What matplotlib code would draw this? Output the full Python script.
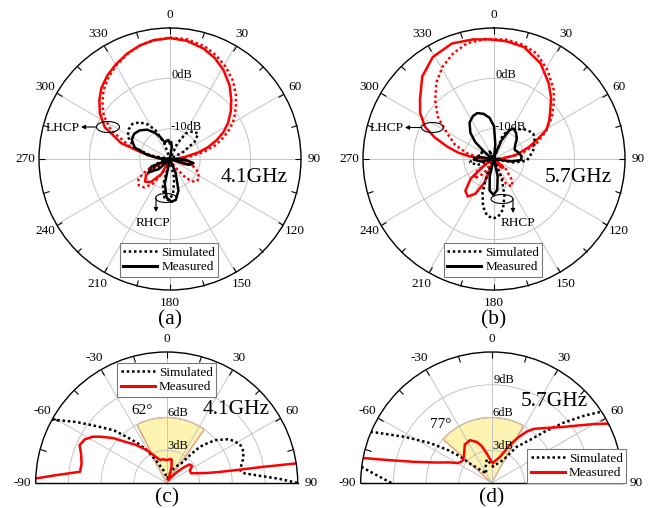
import numpy as np
import matplotlib
matplotlib.use("Agg")
import matplotlib.pyplot as plt
from matplotlib.lines import Line2D
from matplotlib.patches import Ellipse, FancyArrowPatch

plt.rcParams["font.family"] = ["Liberation Serif", "DejaVu Serif"]

# ---- (a) 4.1 GHz radiation pattern, angle (deg) / gain (dB) ----
a_lhcp_meas_ang = [-95, -85, -78, -72, -64, -57, -50, -44, -37, -30, -22, -15, -8, 0, 8, 17, 24, 31, 39, 46,
                   52, 58, 63, 68, 73, 77, 82, 88, 95, 100, 105, 110, 116, 130, 200, 210, 220, 228, 236, 244, 252, 265]
a_lhcp_meas_db = [-16, -13.5, -10.6, -5.8, -1.6, 0.6, 2.3, 3.6, 4.7, 5.6, 6.6, 7.3, 7.8, 8.0, 7.7, 6.9, 5.9, 4.6, 2.8, 0.9,
                  -0.7, -2.4, -4.0, -6.0, -8.2, -10.2, -13, -15, -13, -11.3, -11.5, -13, -16, -16, -16, -12.5, -10, -9.3, -10.3, -13, -16, -16]
a_lhcp_sim_ang = [-95, -85, -78, -72, -64, -57, -50, -44, -37, -30, -22, -15, -8, 0, 8, 17, 24, 31, 39, 46,
                  52, 58, 63, 68, 73, 78, 83, 88, 95, 105, 115, 125, 133, 140, 148, 155, 200, 208, 215, 222,
                  230, 238, 245, 252, 265]
a_lhcp_sim_db = [-16, -14, -11.5, -7.5, -3, -0.3, 1.5, 3, 4.3, 5.4, 6.5, 7.3, 7.8, 8.1, 8.0, 7.4, 6.5, 5.4, 3.9, 2.2,
                 0.6, -1.0, -2.6, -4.5, -6.6, -9.0, -12.0, -14.5, -14, -11.5, -9.8, -9.0, -9.3, -11, -14, -16, -16, -13, -10, -8.4,
                 -7.9, -8.6, -11, -14, -16]
a_rhcp_meas_ang = [-100, -88, -80, -72, -63, -55, -47, -38, -30, -24, -17, -10, -5, 0, 4, 8, 14, 85, 92, 100,
                   107, 115, 150, 158, 165, 172, 178, 185, 192, 198, 215, 228, 238, 248, 256, 260]
a_rhcp_meas_db = [-16, -14, -11.5, -8.6, -7.5, -7.3, -7.7, -8.6, -10, -11.2, -12.6, -12.3, -12.2, -13, -12.6, -13.5, -16, -16, -13, -11.3,
                  -12.2, -16, -16, -13, -9.5, -7.8, -7.5, -8.3, -11, -16, -16, -13, -11, -12, -16, -16]
a_rhcp_sim_ang = [-90, -80, -72, -62, -54, -47, -40, -33, -27, -20, -12, 18, 25, 32, 40, 48, 55, 62, 70, 90,
                  97, 104, 112, 160, 168, 175, 182, 188, 195, 202, 225, 235, 245, 255, 270]
a_rhcp_sim_db = [-16, -12, -8.5, -6.5, -5.9, -5.8, -6.5, -7.8, -9.5, -12.5, -16, -16, -12.5, -10, -8.8, -8.5, -10, -13, -16, -16,
                 -13.5, -14, -16, -16, -12, -9, -7.8, -8.2, -10.5, -16, -16, -12.5, -12, -14, -16]

# ---- (b) 5.7 GHz radiation pattern ----
b_lhcp_meas_ang = [-95, -88, -84, -80, -75, -70, -65, -58, -51, -41, -31, -20, -10, -2, 6, 15, 26, 36, 43, 49,
                   55, 61, 66, 71, 75, 80, 87, 95, 125, 132, 140, 148, 195, 202, 208, 215, 222, 230, 238, 245, 265]
b_lhcp_meas_db = [-16, -13.5, -11.2, -8.8, -6.3, -3.5, -0.9, 1.3, 2.9, 5.7, 7.6, 8.4, 8.1, 7.75, 7.5, 7.0, 5.1, 2.5, 0.6, -1.2,
                  -2.6, -4.1, -6.7, -8.6, -10.3, -11.6, -14.5, -16, -16, -13.5, -13.8, -16, -16, -11, -8.2, -6.9, -7.5, -10, -14, -16, -16]
b_lhcp_sim_ang = [-95, -85, -78, -70, -61, -53, -45, -37, -29, -21, -13, -4, 6, 14, 22, 31, 41, 47, 54, 62,
                  70, 77, 84, 90, 120, 130, 140, 147, 154, 162, 170, 205, 215, 225, 235, 245, 265]
b_lhcp_sim_db = [-16, -13.5, -10.5, -7.8, -5.3, -2.0, 0.5, 3.0, 5.0, 6.5, 7.6, 7.9, 7.8, 7.4, 6.6, 4.6, 2.1, 0.2, -1.8, -4.4,
                 -7.0, -10, -13.5, -15.5, -16, -13, -10.3, -9.5, -10.5, -13.5, -16, -16, -12.5, -10.5, -12, -16, -16]
b_rhcp_meas_ang = [-72, -60, -55, -48, -42, -34, -26, -20, -13, -6, 0, 5, 10, 15, 22, 28, 33, 40, 48, 57,
                   66, 75, 84, 92, 98, 105, 160, 168, 174, 181, 188, 194, 200, 245, 258, 268, 278, 288]
b_rhcp_meas_db = [-16, -15, -14, -11, -9, -7.3, -6.5, -6.3, -6.8, -7.8, -9.5, -13, -16, -15, -12, -9.5, -8.8, -9.2, -9.9, -11.0,
                  -11.5, -11, -10.5, -10.6, -12.5, -16, -16, -12.5, -9.8, -8.9, -9.7, -12.5, -16, -16, -13.5, -12, -13, -16]
b_rhcp_sim_ang = [-42, -30, -20, 15, 20, 28, 38, 48, 57, 67, 77, 86, 93, 100, 108, 150, 158, 164, 170, 176,
                  181, 187, 193, 199, 205, 212, 235, 250, 262, 275, 290, 305, 318]
b_rhcp_sim_db = [-16, -14, -16, -16, -11, -9.5, -8.5, -7.3, -6.7, -7.2, -8, -8.9, -9.5, -12, -16, -16, -12, -8.5, -5.8, -4.5,
                 -4.2, -4.7, -6.3, -9, -13, -16, -16, -12.5, -11.2, -12, -13.5, -12.8, -16]

# ---- (c) 4.1 GHz gain, upper half space ----
c_sim_ang = [-61, -56, -50, -45, -41, -36, -31, -26, -20, -12, -4, 5, 15, 25, 32, 37, 40, 42.5, 46, 49,
             55, 62, 68, 73, 77, 80, 83, 85, 86.5, 88, 90]
c_sim_db = [12.0, 10.0, 8.0, 6.8, 5.6, 4.5, 3.5, 2.4, 1.6, 1.1, 0.6, 0.4, 0.8, 1.4, 1.9, 2.3, 3.4, 4.5, 5.3, 6.0,
            7.0, 7.6, 7.6, 7.3, 7.0, 6.8, 7.2, 8.2, 9.2, 10.4, 12.0]
c_meas_ang = [-88, -86, -82.6, -77, -71, -66.5, -62, -58, -55, -50, -46, -39, -31, -24, -16, -8, 0, 8, 12, 17,
              22, 30, 38, 44, 48, 51, 56, 62, 68, 72, 76, 78, 79.5, 80.5, 81.4]
c_meas_db = [12.0, 10.2, 8.0, 8.0, 8.3, 8.7, 8.5, 8.0, 7.4, 6.4, 5.5, 4.5, 3.5, 2.7, 2.2, 2.2, 2.1, 2.2, 2.2, 1.5,
             0.6, 0.3, 0.7, 1.5, 2.2, 2.7, 2.8, 2.4, 2.4, 2.9, 3.8, 4.8, 6.5, 9.0, 12.0]

# ---- (d) 5.7 GHz gain, upper half space ----
d_sim_ang = [-90, -86, -83, -80, -70, -67, -62, -57, -53, -50, -48, -40, -30, -20, -12, -4, 5, 15, 27, 34.5,
             41.7, 46, 50, 54, 57, 59]
d_sim_db = [9.2, 10.6, 12.0, 13.5, 13.5, 12.0, 9.0, 6.7, 5.0, 3.8, 2.6, 1.5, 1.0, 1.6, 2.2, 1.8, 1.5, 1.8, 2.4, 4.0,
            5.3, 6.8, 8.6, 10.5, 12.0, 13.0]
d_meas_ang = [-79, -77.5, -74.8, -69.7, -64, -59.5, -55, -51, -43, -35, -27, -20, -15, -10, -4, 3, 10, 17.5, 25.7, 30,
              34.3, 38, 43.3, 48, 51.8, 56, 60, 62.8, 63.5]
d_meas_db = [12.0, 9.7, 7.4, 5.4, 4.3, 3.6, 3.4, 3.35, 3.7, 4.3, 4.4, 4.0, 3.5, 2.8, 2.2, 1.8, 2.1, 2.5, 3.9, 4.8,
             5.7, 6.3, 6.9, 7.6, 8.3, 9.4, 10.8, 11.9, 12.0]

# 3 dB beamwidth sectors: (start, end) in degrees
c_beam = (-27, 35)
d_beam = (-48, 29)

W, H = 654, 508
R = 131
RED = "#ff0000"
GRID = "#c4c4c4"
DOT = (0, (1, 1.1))


def fxy(x, y):
    return x / W, 1 - y / H


def full_rect(cx, cy):
    return [(cx - R) / W, (H - cy - R) / H, 2 * R / W, 2 * R / H]


def half_rect(cx, cy):
    # half disc sits in the lower middle of a square polar box
    return [(cx - R) / W, (H - cy - R / 2) / H, 2 * R / W, 2 * R / H]


def style(ax, rlim, rings, major, minor, labels):
    ax.set_theta_zero_location("N")
    ax.set_theta_direction(-1)
    ax.set_thetagrids(major, labels)
    ax.set_xticks(np.deg2rad(minor), minor=True)
    ax.set_ylim(*rlim)
    ax.set_yticks(rings)
    ax.set_yticklabels([])
    ax.tick_params(axis="y", length=0)
    # short ticks on the outer rim, pointing towards the centre
    ax.xaxis.set_tick_params(which="both", tick1On=False, tick2On=True, direction="in",
                             length=4.5, width=0.8, pad=2.5, labelsize=9.5)
    ax.grid(color=GRID, lw=0.7)
    for sp in ax.spines.values():
        sp.set_linewidth(1.0)


def legend(ax, meas_color, cx, cy):
    handles = [Line2D([], [], color="k", ls=DOT, lw=1.8),
               Line2D([], [], color=meas_color, lw=2.2)]
    leg = ax.legend(handles, ["Simulated", "Measured"], loc="center",
                    bbox_to_anchor=fxy(cx, cy), bbox_transform=fig.transFigure,
                    fontsize=9.5, fancybox=False, edgecolor="#7a7a7a", framealpha=1,
                    borderpad=0.25, labelspacing=0.15, handlelength=2.6,
                    handletextpad=0.3, borderaxespad=0)
    leg.get_frame().set_linewidth(0.8)
    leg.set_zorder(6)


def rlabel(ax, r, s):
    ax.text(np.deg2rad(1), r, s, ha="left", va="center", fontsize=9, zorder=4)


def marker_ellipse(cx, cy, w, h):
    fig.add_artist(Ellipse(fxy(cx, cy), w / W, h / H, transform=fig.transFigure,
                           fill=False, ec="k", lw=0.8))


def arrow(x0, y0, x1, y1):
    fig.add_artist(FancyArrowPatch(fxy(x0, y0), fxy(x1, y1), transform=fig.transFigure,
                                   arrowstyle="-|>", mutation_scale=6, lw=0.8,
                                   color="k", shrinkA=0, shrinkB=0))


fig = plt.figure(figsize=(6.54, 5.08), dpi=100)

full_major = list(range(0, 360, 30))
full_minor = list(range(15, 360, 30))
half_major = list(range(-90, 91, 30))
half_minor = [-75, -45, -15, 15, 45, 75]

# --- (a) and (b): full patterns ---
top = [
    (170, "(a)", "4.1GHz", a_lhcp_sim_ang, a_lhcp_sim_db, a_lhcp_meas_ang, a_lhcp_meas_db,
     a_rhcp_sim_ang, a_rhcp_sim_db, a_rhcp_meas_ang, a_rhcp_meas_db),
    (494, "(b)", "5.7GHz", b_lhcp_sim_ang, b_lhcp_sim_db, b_lhcp_meas_ang, b_lhcp_meas_db,
     b_rhcp_sim_ang, b_rhcp_sim_db, b_rhcp_meas_ang, b_rhcp_meas_db),
]
for cx, tag, freq, ls_a, ls_d, lm_a, lm_d, rs_a, rs_d, rm_a, rm_d in top:
    ax = fig.add_axes(full_rect(cx, 159), projection="polar")
    style(ax, (-16, 10), [-10, 0], full_major, full_minor, [str(a) for a in full_major])
    ax.plot(np.deg2rad(ls_a), ls_d, color=RED, ls=DOT, lw=1.8)
    ax.plot(np.deg2rad(lm_a), lm_d, color=RED, lw=1.8)
    ax.plot(np.deg2rad(rs_a), rs_d, color="k", ls=DOT, lw=1.8)
    ax.plot(np.deg2rad(rm_a), rm_d, color="k", lw=1.8)
    rlabel(ax, 0.6, "0dB")
    rlabel(ax, -9.6, "-10dB")
    legend(ax, "k", cx - 1, 260)
    fig.text(*fxy(cx + 51, 177), freq, ha="left", va="center", fontsize=15.5)
    fig.text(*fxy(cx, 320), tag, ha="center", va="center", fontsize=15.5)

# LHCP / RHCP call-outs
fig.text(*fxy(80, 128), "LHCP", ha="right", va="center", fontsize=9.5)
marker_ellipse(108, 127, 23, 11)
arrow(96.5, 127, 81, 127)
fig.text(*fxy(153, 223), "RHCP", ha="center", va="center", fontsize=9.5)
marker_ellipse(166, 198, 21, 9)
arrow(156, 198, 156, 212)

fig.text(*fxy(404, 128), "LHCP", ha="right", va="center", fontsize=9.5)
marker_ellipse(432.5, 127.5, 22, 10)
arrow(421.5, 127.5, 405, 127.5)
fig.text(*fxy(518, 223), "RHCP", ha="center", va="center", fontsize=9.5)
marker_ellipse(502, 199, 22, 9)
arrow(513, 199, 513, 213)

# --- (c) and (d): gain in the upper half space ---
bottom = [
    (166.7, "(c)", c_beam, c_sim_ang, c_sim_db, c_meas_ang, c_meas_db, ["3dB", "6dB"]),
    (491.7, "(d)", d_beam, d_sim_ang, d_sim_db, d_meas_ang, d_meas_db, ["3dB", "6dB", "9dB"]),
]
half_axes = []
for cx, tag, beam, s_a, s_d, m_a, m_d, ring_txt in bottom:
    ax = fig.add_axes(half_rect(cx, 483), projection="polar")
    ax.set_thetamin(-90)
    ax.set_thetamax(90)
    style(ax, (0, 12), [3, 6, 9], half_major, half_minor, [str(a) for a in half_major])
    ax.bar(np.deg2rad((beam[0] + beam[1]) / 2), 6, width=np.deg2rad(beam[1] - beam[0]),
           bottom=0, color="#fdf4b2", edgecolor="#e8906c", lw=0.9, zorder=1)
    ax.plot(np.deg2rad(s_a), s_d, color="k", ls=DOT, lw=1.8)
    ax.plot(np.deg2rad(m_a), m_d, color=RED, lw=1.8)
    for i, s in enumerate(ring_txt):
        rlabel(ax, 3 * (i + 1) + 0.4, s)
    fig.text(*fxy(cx, 498), tag, ha="center", va="center", fontsize=15.5)
    half_axes.append(ax)

legend(half_axes[0], RED, 166.7, 380)
legend(half_axes[1], RED, 576.7, 466)

fig.text(*fxy(142.5, 410), "62°", ha="center", va="center", fontsize=11)
fig.text(*fxy(203, 410), "4.1GHz", ha="left", va="center", fontsize=15.5)
fig.text(*fxy(441, 425), "77°", ha="center", va="center", fontsize=11)
fig.text(*fxy(521, 401), "5.7GHz", ha="left", va="center", fontsize=15.5)

fig.savefig("out.png", dpi=100)
